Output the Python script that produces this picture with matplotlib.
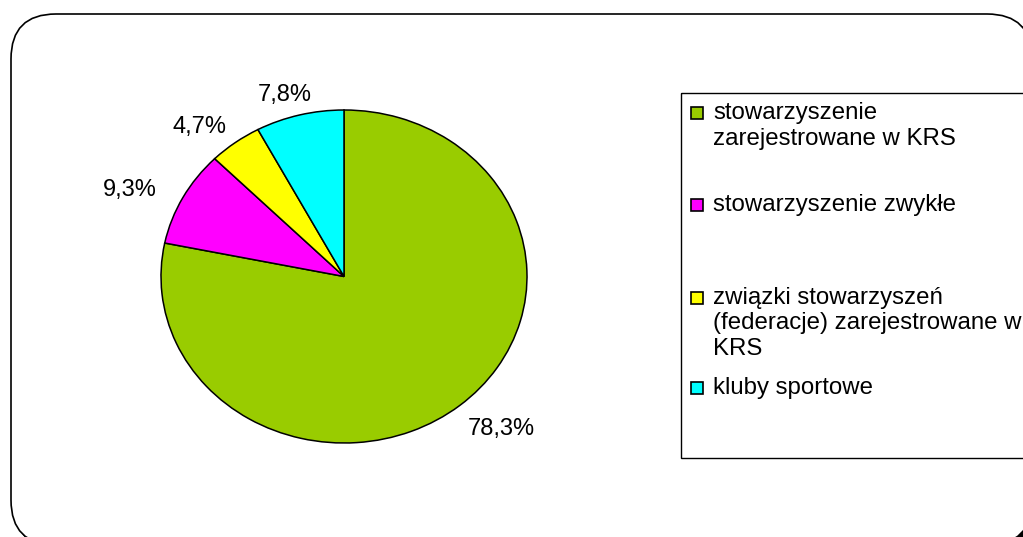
import matplotlib
matplotlib.use('Agg')
import matplotlib.pyplot as plt
from matplotlib.patches import FancyBboxPatch, Rectangle
import numpy as np

# dane
categories = ['stowarzyszenie\nzarejestrowane w KRS',
              'stowarzyszenie zwykłe',
              'związki stowarzyszeń\n(federacje) zarejestrowane w\nKRS',
              'kluby sportowe']
shares = [78.3, 9.3, 4.7, 7.8]
pct_labels = ['78,3%', '9,3%', '4,7%', '7,8%']
colors = ['#99CC00', '#FF00FF', '#FFFF00', '#00FFFF']

W, H = 1023, 537
plt.rcParams['font.family'] = ['Liberation Sans', 'DejaVu Sans']
fig = plt.figure(figsize=(W / 100, H / 100), dpi=100)

# tlo w pikselach (ramka, legenda)
bg = fig.add_axes([0, 0, 1, 1])
bg.set_xlim(0, W)
bg.set_ylim(H, 0)
bg.axis('off')
style = 'round,pad=0,rounding_size=45'
bg.add_patch(FancyBboxPatch((15, 18), 1021, 531, boxstyle=style,
                            fc='black', ec='black', lw=1))
bg.add_patch(FancyBboxPatch((11, 14), 1021, 531, boxstyle=style,
                            fc='white', ec='black', lw=1.2))

# wykres kolowy
pax = fig.add_axes([161 / W, 1 - 443 / H, 366 / W, 333 / H])
wedges, _ = pax.pie(shares, colors=colors, startangle=90, counterclock=False,
                    wedgeprops=dict(edgecolor='black', linewidth=1.1))
pax.set_aspect('auto')
pax.set_xlim(-1, 1)
pax.set_ylim(-1, 1)
pax.axis('off')

# etykiety procentowe obok krawedzi wycinka
for w, lab in zip(wedges, pct_labels):
    ang = np.deg2rad((w.theta1 + w.theta2) / 2)
    c, s = np.cos(ang), np.sin(ang)
    a = 38 + 5.5 * len(lab)
    b = 25
    pax.annotate(lab, xy=(c, s), xytext=(c * a, s * b - 4),
                 textcoords='offset pixels', ha='center', va='center',
                 fontsize=17, annotation_clip=False)

# legenda
bg.add_patch(Rectangle((681, 93), 400, 365, fc='none', ec='black', lw=1))
entry_y = [113, 205, 298, 388]
for y, col, cat in zip(entry_y, colors, categories):
    bg.add_patch(Rectangle((691, y - 6), 12, 12, fc=col, ec='black', lw=1.2))
    for i, line in enumerate(cat.split('\n')):
        bg.text(713, y + i * 25.5, line, ha='left', va='center', fontsize=17.3)

fig.savefig('out.png', dpi=100)
